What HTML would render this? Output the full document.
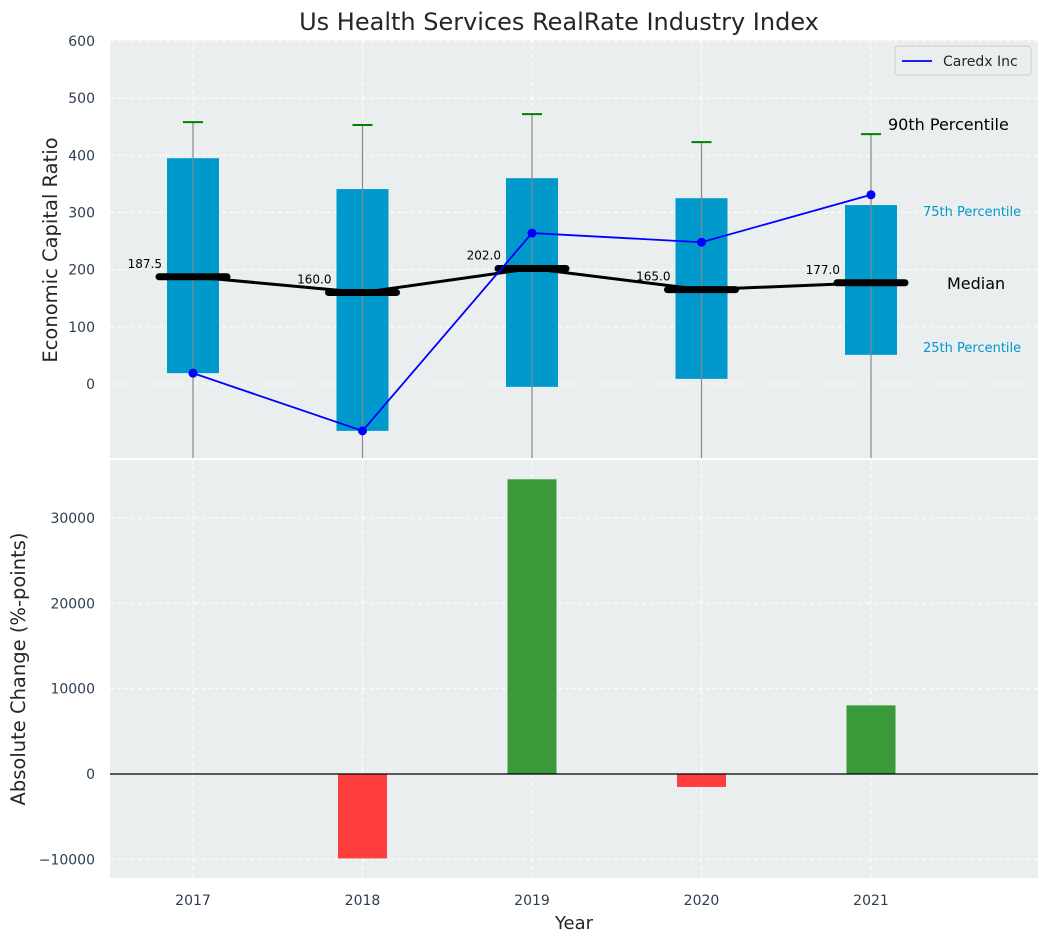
<!DOCTYPE html>
<html><head><meta charset="utf-8"><style>
body{margin:0;background:#fff;font-family:"Liberation Sans","DejaVu Sans",sans-serif}
svg text{font-family:"DejaVu Sans","Liberation Sans",sans-serif}
</style></head><body>
<svg id="c" width="1048" height="942"></svg>
<script>
const years=[2017,2018,2019,2020,2021];
const p25=[19,-82,-5,9,51];
const p75=[395,341,360,325,313];
const p90=[458,453,472,423,437];
const medians=[187.5,160.0,202.0,165.0,177.0];
const caredx=[19,-82,264,248,331];
const changes=[0,-9900,34550,-1520,8050];
const topTicks=[0,100,200,300,400,500,600];
const botTicks=[-10000,0,10000,20000,30000];

const NS="http://www.w3.org/2000/svg",svg=document.getElementById('c');
function el(t,a,txt,p){const e=document.createElementNS(NS,t);for(const k in a)e.setAttribute(k,a[k]);if(txt!=null)e.textContent=txt;(p||svg).appendChild(e);return e;}
const L=110,R=1038,T1=40,B1=458,T2=460,B2=878;
const x=v=>193+(v-2017)*169.5;
const y1=v=>384-v*0.5717;
const y2=v=>774-v*0.00853;

let e;
e=el('rect',{x:L,y:T1,width:R-L,height:B1-T1,fill:'#eaeeef'});

e=el('rect',{x:L,y:T2,width:R-L,height:B2-T2,fill:'#eaeeef'});


e=el('text',{x:559,y:30,'text-anchor':'middle','font-size':24,fill:'#262626'},'Us Health Services RealRate Industry Index');


years.forEach(v=>{
 el('line',{x1:x(v),x2:x(v),y1:T1,y2:B1,stroke:'#fff','stroke-dasharray':'4,3'});
 el('line',{x1:x(v),x2:x(v),y1:T2,y2:B2,stroke:'#fff','stroke-dasharray':'4,3'});
 e=el('text',{x:x(v),y:905,'text-anchor':'middle','font-size':14,fill:'#2d3e50'},v);
 
});
topTicks.forEach(v=>{
 el('line',{x1:L,x2:R,y1:y1(v),y2:y1(v),stroke:'#fff','stroke-dasharray':'4,3'});
 e=el('text',{x:95,y:y1(v)+5,'text-anchor':'end','font-size':14,fill:'#2d3e50'},v);
 
});
botTicks.forEach(v=>{
 el('line',{x1:L,x2:R,y1:y2(v),y2:y2(v),stroke:'#fff','stroke-dasharray':'4,3'});
 e=el('text',{x:95,y:y2(v)+5,'text-anchor':'end','font-size':14,fill:'#2d3e50'},v<0?'−'+(-v):v);
 
});

years.forEach((v,i)=>{
 e=el('rect',{x:x(v)-26,y:y1(p75[i]),width:52,height:y1(p25[i])-y1(p75[i]),fill:'#0099cc'});
 
 e=el('line',{x1:x(v),x2:x(v),y1:y1(p90[i]),y2:B1,stroke:'#888','stroke-width':1.2});
 
 e=el('line',{x1:x(v)-10,x2:x(v)+10,y1:y1(p90[i]),y2:y1(p90[i]),stroke:'green','stroke-width':2});
 
});
e=el('polyline',{points:years.map((v,i)=>x(v)+','+y1(medians[i])).join(' '),fill:'none',stroke:'#000','stroke-width':3});

years.forEach((v,i)=>{
 e=el('line',{x1:x(v)-34,x2:x(v)+34,y1:y1(medians[i]),y2:y1(medians[i]),stroke:'#000','stroke-width':7,'stroke-linecap':'round'});
 
 e=el('text',{x:x(v)-31,y:y1(medians[i])-9,'text-anchor':'end','font-size':12,fill:'#000'},medians[i].toFixed(1));
 
});
e=el('polyline',{points:years.map((v,i)=>x(v)+','+y1(caredx[i])).join(' '),fill:'none',stroke:'blue','stroke-width':1.8});

years.forEach((v,i)=>{
 e=el('circle',{cx:x(v),cy:y1(caredx[i]),r:4.5,fill:'blue'});
 
});
const last=years.length-1;
e=el('text',{x:888,y:y1(p90[last])-4,'font-size':16,fill:'#000'},'90th Percentile');
e=el('text',{x:923,y:216,'font-size':13,fill:'#0099cc'},'75th Percentile');
e=el('text',{x:947,y:289,'font-size':16,fill:'#000'},'Median');
e=el('text',{x:923,y:352,'font-size':13,fill:'#0099cc'},'25th Percentile');
const g=el('g',{});
el('rect',{x:895,y:46,width:136,height:29,rx:3,fill:'#eaeeef',stroke:'#ccc'},null,g);
el('line',{x1:902,x2:932,y1:61,y2:61,stroke:'blue','stroke-width':1.8},null,g);
el('text',{x:943,y:66,'font-size':14,fill:'#262626'},'Caredx Inc',g);

years.forEach((v,i)=>{
 const c=changes[i];
 e=el('rect',{x:x(v)-24.5,y:Math.min(y2(c),y2(0)),width:49,height:Math.abs(y2(c)-y2(0)),fill:c>=0?'#3a9a3a':'#ff3e3e'});
 
});
el('line',{x1:L,x2:R,y1:y2(0),y2:y2(0),stroke:'#000','stroke-width':1.2});

e=el('text',{x:0,y:0,'font-size':19.5,fill:'#262626','text-anchor':'middle',transform:'translate(57,250) rotate(-90)'},'Economic Capital Ratio');

e=el('text',{x:0,y:0,'font-size':19.5,fill:'#262626','text-anchor':'middle',transform:'translate(25,669) rotate(-90)'},'Absolute Change (%-points)');

e=el('text',{x:574,y:929,'font-size':18,fill:'#262626','text-anchor':'middle'},'Year');

</script></body></html>
